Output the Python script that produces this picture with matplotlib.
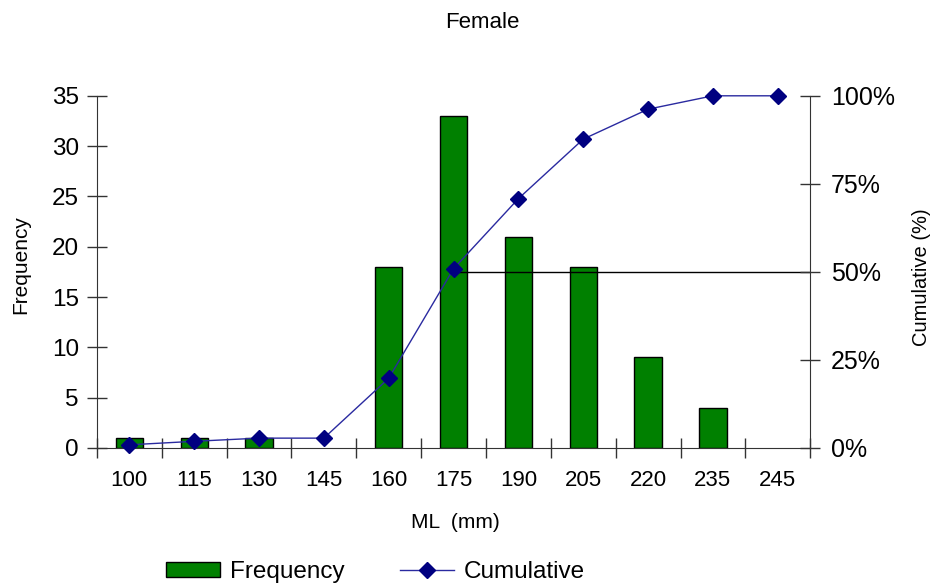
import matplotlib
matplotlib.use("Agg")
import matplotlib.pyplot as plt
from matplotlib.lines import Line2D
from matplotlib.patches import Patch
import numpy as np

plt.rcParams['font.family'] = ['Liberation Sans', 'DejaVu Sans']

categories = ["100", "115", "130", "145", "160", "175", "190", "205", "220", "235", "245"]
frequency = [1, 1, 1, 0, 18, 33, 21, 18, 9, 4, 0]
cumulative = [0.9, 1.9, 2.8, 2.8, 19.8, 50.9, 70.8, 87.7, 96.2, 100, 100]

fig = plt.figure(figsize=(9.41, 5.87), dpi=100)
ax = fig.add_axes([0.103, 0.2368, 0.758, 0.6])
x = np.arange(len(categories))

bars = ax.bar(x, frequency, width=0.42, color='#008000', edgecolor='black', linewidth=1, zorder=2)
for b, v in zip(bars, frequency):
    if v == 0:
        b.set_visible(False)
ax.set_xlim(-0.5, len(categories) - 0.5)
ax.set_ylim(0, 35)
ax.set_yticks(range(0, 36, 5))
ax.set_xticks(x)
ax.set_xticklabels(categories)
ax.set_xticks(np.arange(-0.5, len(categories), 1), minor=True)
ax.tick_params(axis='x', which='major', length=0, pad=16, labelsize=16)
ax.tick_params(axis='x', which='minor', direction='inout', length=14, width=1, color='#333333')
ax.tick_params(axis='y', direction='inout', length=14, width=1, color='#333333', labelsize=17.5, pad=6)
for s in ['top', 'right']:
    ax.spines[s].set_visible(False)
for s in ['left', 'bottom']:
    ax.spines[s].set_color('#333333')
ax.set_ylabel('Frequency', fontsize=15)
ax.yaxis.set_label_coords(-0.094, 0.52)
ax.set_xlabel('ML  (mm)', fontsize=15)
ax.xaxis.set_label_coords(0.503, -0.185)

ax2 = ax.twinx()
ax2.set_ylim(0, 100)
ax2.set_yticks([0, 25, 50, 75, 100])
ax2.set_yticklabels(['0%', '25%', '50%', '75%', '100%'])
ax2.tick_params(axis='y', direction='inout', length=14, width=1, color='#333333', labelsize=18, pad=8)
for s in ['top', 'left', 'bottom']:
    ax2.spines[s].set_visible(False)
ax2.spines['right'].set_color('#333333')
ax2.hlines(50, 5, len(categories) - 0.5, color='black', linewidth=1, zorder=1)
ax2.plot(x, cumulative, color='#2a2aa0', linewidth=1, marker='D', markersize=8,
         markerfacecolor='#000080', markeredgecolor='#000080', zorder=3, clip_on=False)
ax2.set_ylabel('Cumulative (%)', fontsize=14.5)
ax2.yaxis.set_label_coords(1.143, 0.486)

fig.text(0.513, 0.962, 'Female', ha='center', va='center', fontsize=16)

handles = [Patch(facecolor='#008000', edgecolor='black'),
           Line2D([0], [0], color='#2a2aa0', linewidth=1, marker='D', markersize=8,
                  markerfacecolor='#000080', markeredgecolor='#000080')]
fig.legend(handles, ['Frequency', 'Cumulative'], loc='center', bbox_to_anchor=(0.399, 0.025),
           ncol=2, frameon=False, fontsize=17.5, handlelength=2.2, handleheight=0.6,
           columnspacing=2.3, handletextpad=0.4)

fig.savefig('out.png', dpi=100)
